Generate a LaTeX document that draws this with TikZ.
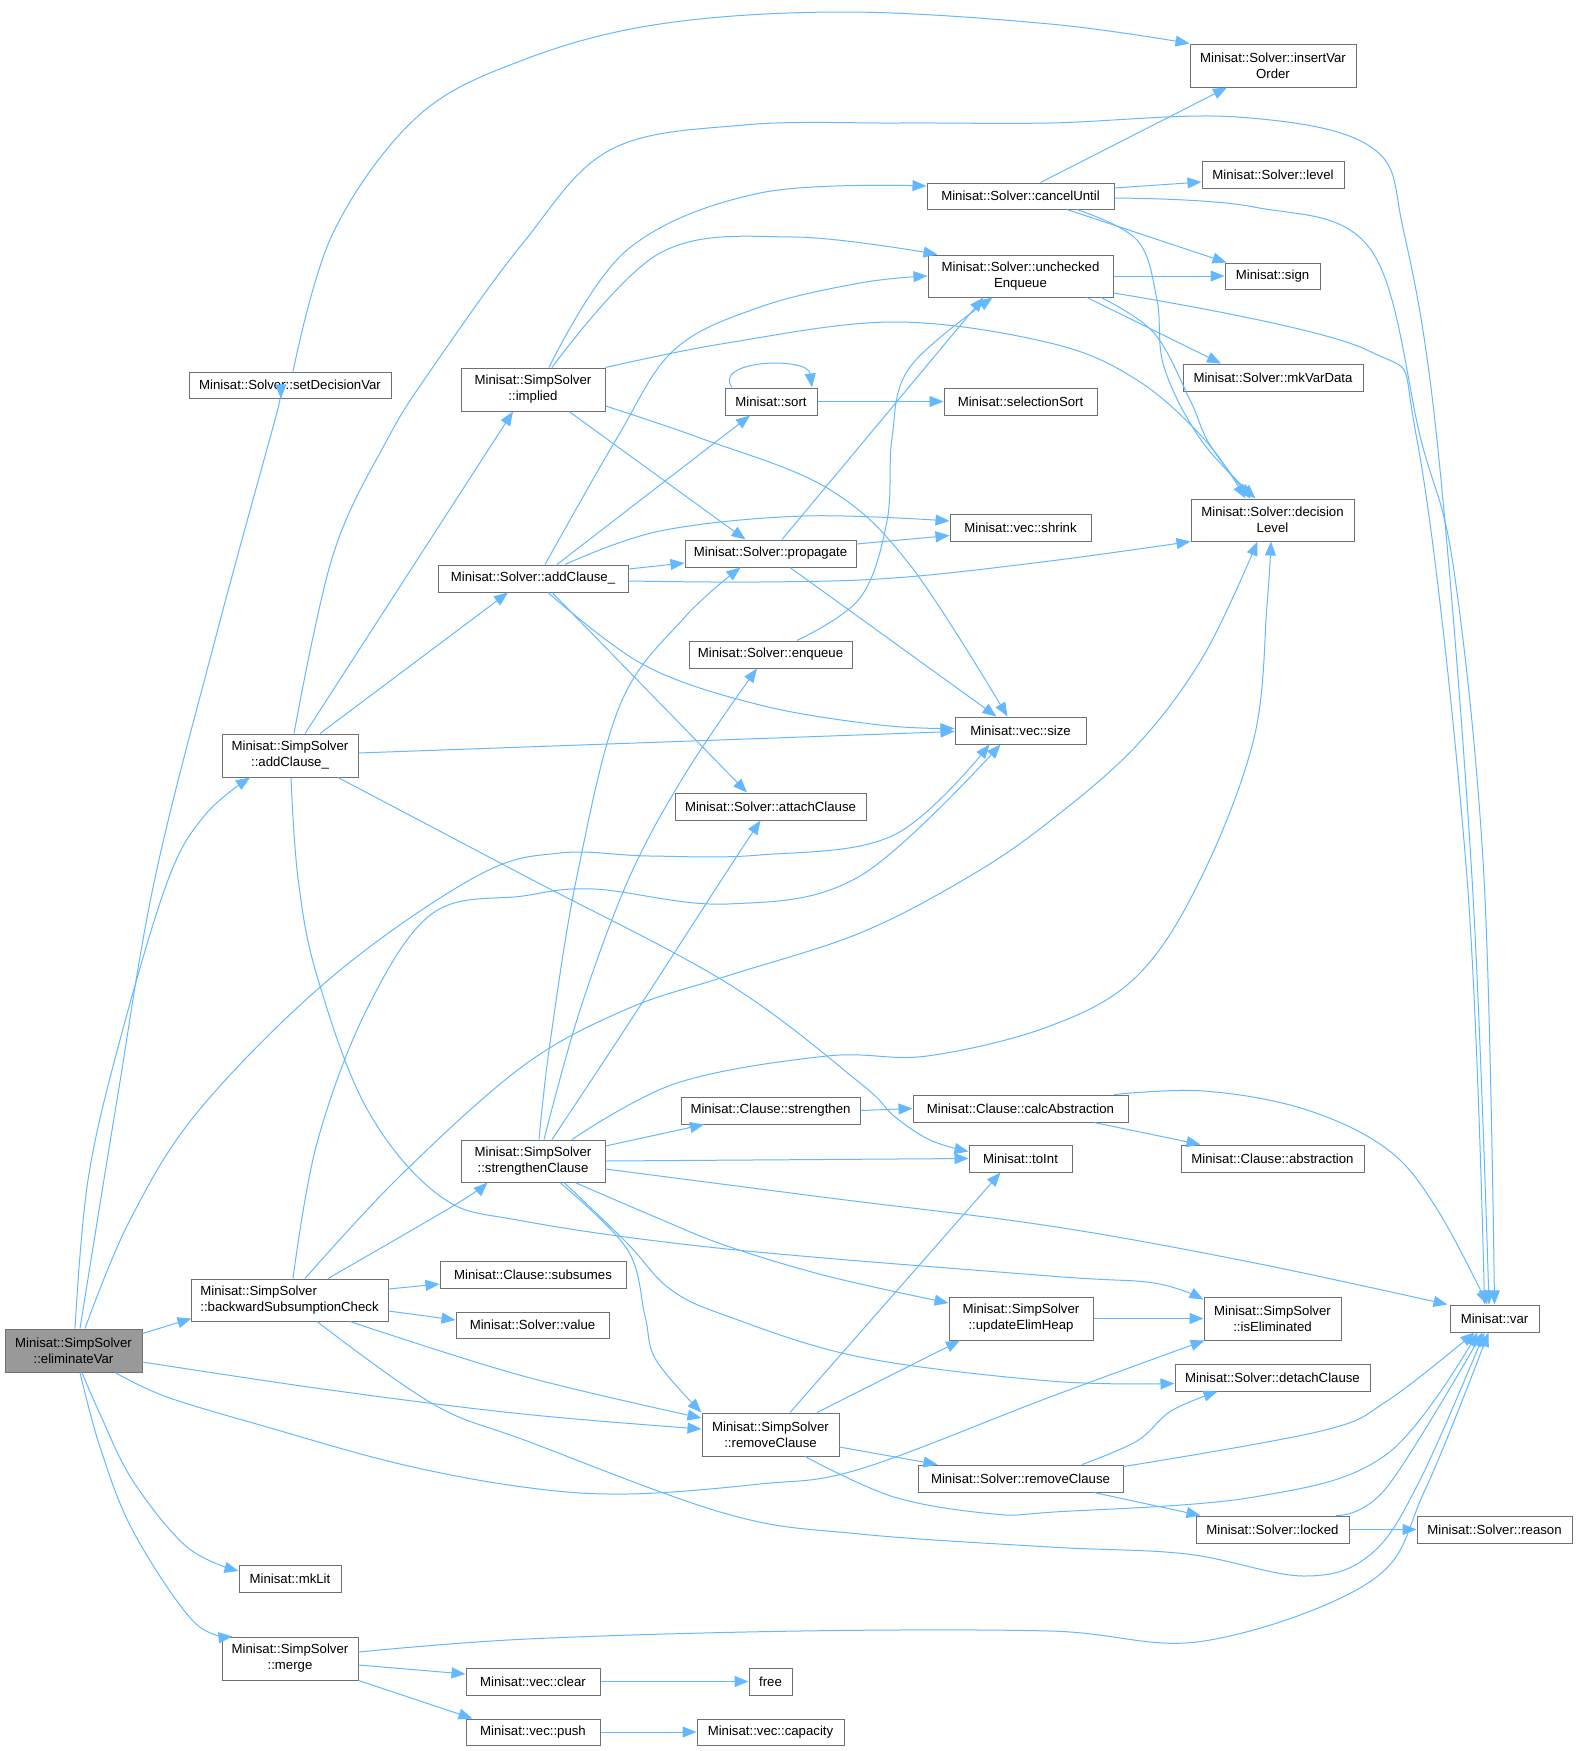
\documentclass[tikz,border=0pt]{standalone}
\usepackage{fontspec}
\setmainfont{Liberation Sans}
\usetikzlibrary{arrows.meta}
\definecolor{edgeblue}{HTML}{63B8FF}
\definecolor{boxgray}{HTML}{707070}
\definecolor{elimgray}{HTML}{999999}
\newcommand\dfs{\fontsize{13.2pt}{16pt}\selectfont}
\tikzset{
  box/.style={draw=boxgray, fill=white, line width=1pt, inner sep=0pt, font=\dfs, align=center},
  edge/.style={draw=edgeblue, line width=1pt, -{Triangle[length=14pt,width=11pt]}},
  sm/.style={smooth, tension=0.6}
}
\begin{document}
\begin{tikzpicture}[x=1pt,y=-1pt]
\useasboundingbox (0,0) rectangle (1582,1751);
% nodes
\node[box, minimum width=137pt, minimum height=43pt, fill=elimgray] (E) at (73.5,1350.5) {Minisat::SimpSolver\\::eliminateVar};
\node[box, minimum width=202pt, minimum height=26pt] (sdv) at (290,385) {Minisat::Solver::setDecisionVar};
\node[box, minimum width=136pt, minimum height=43pt] (Aa) at (290,755.5) {Minisat::SimpSolver\\::addClause\_};
\node[box, minimum width=197pt, minimum height=42pt, align=left] (bsc) at (289.5,1300) {Minisat::SimpSolver\\::backwardSubsumptionCheck};
\node[box, minimum width=102pt, minimum height=27pt] (mklit) at (290,1578.5) {Minisat::mkLit};
\node[box, minimum width=136pt, minimum height=43pt] (merge) at (290,1658.5) {Minisat::SimpSolver\\::merge};
\node[box, minimum width=166pt, minimum height=43pt] (ivo) at (1273,65.5) {Minisat::Solver::insertVar\\Order};
\node[box, minimum width=89pt, minimum height=27pt] (var) at (1494.5,1318.5) {Minisat::var};
\node[box, minimum width=187pt, minimum height=26pt] (cu) at (1020.5,196) {Minisat::Solver::cancelUntil};
\node[box, minimum width=142pt, minimum height=27pt] (level) at (1273,174.5) {Minisat::Solver::level};
\node[box, minimum width=95pt, minimum height=26pt] (sign) at (1272.5,276) {Minisat::sign};
\node[box, minimum width=185pt, minimum height=42pt] (ue) at (1020.5,276) {Minisat::Solver::unchecked\\Enqueue};
\node[box, minimum width=180pt, minimum height=27pt] (mvd) at (1273,377.5) {Minisat::Solver::mkVarData};
\node[box, minimum width=163pt, minimum height=42pt] (dl) at (1272.5,520) {Minisat::Solver::decision\\Level};
\node[box, minimum width=144pt, minimum height=43pt] (impl) at (533,389.5) {Minisat::SimpSolver\\::implied};
\node[box, minimum width=92pt, minimum height=27pt] (sort) at (771,401.5) {Minisat::sort};
\node[box, minimum width=153pt, minimum height=27pt] (ssort) at (1020.5,401.5) {Minisat::selectionSort};
\node[box, minimum width=141pt, minimum height=27pt] (shrink) at (1020.5,527.5) {Minisat::vec::shrink};
\node[box, minimum width=190pt, minimum height=27pt] (Ba) at (533,578.5) {Minisat::Solver::addClause\_};
\node[box, minimum width=171pt, minimum height=27pt] (prop) at (770.5,553.5) {Minisat::Solver::propagate};
\node[box, minimum width=163pt, minimum height=27pt] (enq) at (770.5,654.5) {Minisat::Solver::enqueue};
\node[box, minimum width=131pt, minimum height=27pt] (size) at (1020.5,730.5) {Minisat::vec::size};
\node[box, minimum width=191pt, minimum height=27pt] (attach) at (770.5,806.5) {Minisat::Solver::attachClause};
\node[box, minimum width=179pt, minimum height=27pt] (str) at (770.5,1110.5) {Minisat::Clause::strengthen};
\node[box, minimum width=215pt, minimum height=27pt] (calc) at (1020.5,1108.5) {Minisat::Clause::calcAbstraction};
\node[box, minimum width=183pt, minimum height=27pt] (abs) at (1272.5,1158.5) {Minisat::Clause::abstraction};
\node[box, minimum width=144pt, minimum height=42pt] (sc) at (533,1161) {Minisat::SimpSolver\\::strengthenClause};
\node[box, minimum width=103pt, minimum height=27pt] (toint) at (1020.5,1158.5) {Minisat::toInt};
\node[box, minimum width=186pt, minimum height=27pt] (subs) at (533,1274.5) {Minisat::Clause::subsumes};
\node[box, minimum width=153pt, minimum height=26pt] (value) at (532.5,1325) {Minisat::Solver::value};
\node[box, minimum width=144pt, minimum height=43pt] (ueh) at (1021,1318.5) {Minisat::SimpSolver\\::updateElimHeap};
\node[box, minimum width=137pt, minimum height=43pt] (iselim) at (1272.5,1318.5) {Minisat::SimpSolver\\::isEliminated};
\node[box, minimum width=195pt, minimum height=27pt] (detach) at (1272.5,1377.5) {Minisat::Solver::detachClause};
\node[box, minimum width=137pt, minimum height=43pt] (rcs) at (770.5,1434.5) {Minisat::SimpSolver\\::removeClause};
\node[box, minimum width=205pt, minimum height=27pt] (rc) at (1020.5,1478.5) {Minisat::Solver::removeClause};
\node[box, minimum width=153pt, minimum height=27pt] (locked) at (1272.5,1529.5) {Minisat::Solver::locked};
\node[box, minimum width=155pt, minimum height=27pt] (reason) at (1494.5,1529.5) {Minisat::Solver::reason};
\node[box, minimum width=134pt, minimum height=27pt] (clear) at (533,1681.5) {Minisat::vec::clear};
\node[box, minimum width=43pt, minimum height=27pt] (free) at (770.5,1681.5) {free};
\node[box, minimum width=134pt, minimum height=26pt] (push) at (533,1732) {Minisat::vec::push};
\node[box, minimum width=147pt, minimum height=26pt] (cap) at (770.5,1732) {Minisat::vec::capacity};
% edges from eliminateVar
\draw[edge] plot[sm] coordinates {([xshift=6.5pt]E.north) (117,1100) (155,878) (215,640) (270,438) ([xshift=-9pt]sdv.south)};
\draw[edge] plot[sm] coordinates {([xshift=1.5pt]E.north) (88,1180) (120,1040) (168,880) (205,815) ([xshift=-40pt]Aa.south)};
\draw[edge] plot[sm] coordinates {([xshift=11.5pt]E.north) (130,1220) (200,1109) (333,976) (477,876) (560,853) (650,856) (760,855) (894,835) ([xshift=-31pt]size.south)};
\draw[edge] ([yshift=-5pt]E.north east) -- ([shift={(1pt,3pt)}]bsc.south west);
\draw[edge] plot[sm] coordinates {([yshift=-11.5pt]E.east) (330,1390) (523,1414) ([yshift=5.5pt]rcs.west)};
\draw[edge] plot[sm] coordinates {([xshift=41.5pt]E.south) (167,1397) (267,1427) (400,1464) (523,1487) (627,1494) (760,1484) (860,1469) (1050,1397) ([xshift=1pt]iselim.south west)};
\draw[edge] plot[sm] coordinates {([xshift=8.5pt]E.south) (100,1414) (133,1481) (187,1547) ([yshift=7.5pt]mklit.west)};
\draw[edge] plot[sm] coordinates {([xshift=6.5pt]E.south) (100,1447) (133,1531) (193,1621) ([xshift=11pt]merge.north west)};
% setDecisionVar
\draw[edge] plot[sm] coordinates {([xshift=3pt]sdv.north) (333,233) (417,117) (523,60) (660,24) (844,12) (1050,24) (ivo.north west)};
% SimpSolver::addClause_
\draw[edge] ([xshift=30pt]Aa.north) -- ([xshift=-25pt]Ba.south);
\draw[edge] ([xshift=15pt]Aa.north) -- ([xshift=-20pt]impl.south);
\draw[edge] plot[sm] coordinates {([xshift=4pt]Aa.north) (333,555) (387,440) (433,367) (523,243) (610,150) (744,125) (900,123) (1050,123) (1237,117) (1371,147) (1404,233) (1437,440) (1472,878) ([xshift=-5.5pt]var.north)};
\draw[edge] ([yshift=2.5pt]Aa.east) -- ([yshift=-1pt]size.west);
\draw[edge] plot[sm] coordinates {([xshift=48pt]Aa.south) (523,875) (727,983) (860,1083) (894,1116) (930,1140) ([yshift=7pt]toint.west)};
\draw[edge] plot[sm] coordinates {([xshift=1pt]Aa.south) (298,878) (317,976) (367,1109) (440,1196) (523,1221) (727,1249) (1050,1276) (1154,1283) ([yshift=-3pt]iselim.north west)};
% Solver::addClause_
\draw[edge] plot[sm] coordinates {([xshift=12pt]Ba.north) (617,438) (674,350) (760,307) (860,283) (ue.west)};
\draw[edge] ([xshift=24pt]Ba.north) -- ([xshift=-21pt]sort.south);
\draw[edge] plot[sm] coordinates {([xshift=32pt]Ba.north) (660,531) (804,516) ([yshift=6.5pt]shrink.west)};
\draw[edge] ([yshift=9.5pt]Ba.east) -- ([yshift=-9.5pt]prop.west);
\draw[edge] plot[sm] coordinates {([yshift=-2.5pt]Ba.east) (760,582) (894,578) (1050,561) (dl.south west)};
\draw[edge] ([xshift=19pt]Ba.south) -- ([xshift=-23.5pt]attach.north);
\draw[edge] plot[sm] coordinates {([xshift=15pt]Ba.south) (644,665) (760,705) (880,725) ([yshift=2pt]size.west)};
% implied
\draw[edge] plot[sm] coordinates {([xshift=16pt]impl.north) (627,250) (760,193) ([yshift=10pt]cu.west)};
\draw[edge] plot[sm] coordinates {([xshift=19pt]impl.north) (660,253) (794,237) ([xshift=10pt]ue.north west)};
\draw[edge] plot[sm] coordinates {(impl.north east) (727,343) (894,322) (1050,343) (1137,380) (1205,440) ([xshift=-27pt]dl.north)};
\draw[edge] ([xshift=36pt]impl.south) -- ([xshift=-25pt]prop.north);
\draw[edge] plot[sm] coordinates {([yshift=-16.5pt]impl.east) (700,438) (827,488) (910,565) ([xshift=-13pt]size.north)};
% sort
\draw[edge] ([xshift=-39pt]sort.north) .. controls (712,360) and (808,356) .. ([xshift=41pt]sort.north);
\draw[edge] (sort.east) -- (ssort.west);
% cancelUntil
\draw[edge] ([xshift=20pt]cu.north) -- ([xshift=-46pt]ivo.south);
\draw[edge] ([yshift=8pt]cu.east) -- ([yshift=-7.5pt]level.west);
\draw[edge] plot[sm] coordinates {([yshift=-2pt]cu.east) (1254,207) (1371,250) (1421,440) (1454,571) (1484,878) (var.north)};
\draw[edge] ([xshift=46.5pt]cu.south) -- ([xshift=2pt]sign.north west);
\draw[edge] plot[sm] coordinates {([xshift=56.5pt]cu.south) (1137,240) (1157,300) (1164,367) (1201,440) ([xshift=-17pt]dl.north)};
% uncheckedEnqueue
\draw[edge] (ue.east) -- (sign.west);
\draw[edge] plot[sm] coordinates {([yshift=-17pt]ue.east) (1367,350) (1417,440) (1467,878) ([xshift=-10pt]var.north)};
\draw[edge] ([xshift=66.5pt]ue.south) -- ([xshift=-52pt]mvd.north);
\draw[edge] plot[sm] coordinates {([xshift=80.5pt]ue.south) (1154,333) (1190,400) (1210,445) ([xshift=-22pt]dl.north)};
% propagate, enqueue
\draw[edge] ([xshift=11.5pt]prop.north) -- ([xshift=-37pt]ue.south);
\draw[edge] ([yshift=9.5pt]prop.east) -- ([yshift=-8pt]shrink.west);
\draw[edge] ([xshift=19.5pt]prop.south) -- ([xshift=-24pt]size.north);
\draw[edge] plot[sm] coordinates {([xshift=26.5pt]enq.north) (860,598) (887,521) (892,438) (910,367) ([xshift=-28pt]ue.south)};
% strengthenClause
\draw[edge] plot[sm] coordinates {([xshift=6pt]sc.north) (550,1043) (577,876) (620,705) (684,618) ([xshift=-30pt]prop.south)};
\draw[edge] plot[sm] coordinates {([xshift=11pt]sc.north) (580,1010) (630,876) (687,771) ([xshift=-13.5pt]enq.south)};
\draw[edge] plot[sm] coordinates {([xshift=19pt]sc.north) (627,1026) (724,876) ([xshift=-10pt]attach.south)};
\draw[edge] plot[sm] coordinates {([xshift=39pt]sc.north) (677,1083) (827,1056) (927,1056) (1050,1026) (1137,976) (1201,878) (1254,738) (1267,605) ([xshift=-1.5pt]dl.south)};
\draw[edge] ([yshift=15pt]sc.east) -- ([xshift=-66.5pt]str.south);
\draw[edge] (sc.east) -- (toint.west);
\draw[edge] plot[sm] coordinates {([yshift=-8pt]sc.east) (830,1198) (1050,1226) (1250,1262) ([xshift=-2pt]var.north west)};
\draw[edge] plot[sm] coordinates {([xshift=27pt]sc.south) (627,1249) (645,1316) (656,1360) (rcs.north west)};
\draw[edge] plot[sm] coordinates {([xshift=31pt]sc.south) (627,1243) (670,1289) (727,1316) (860,1357) (1050,1381) ([yshift=-6pt]detach.west)};
\draw[edge] plot[sm] coordinates {([xshift=42pt]sc.south) (660,1219) (727,1246) (827,1276) ([yshift=15.5pt]ueh.west)};
% backwardSubsumptionCheck
\draw[edge] plot[sm] coordinates {([xshift=15.5pt]bsc.north) (400,1176) (523,1066) (627,1009) (727,976) (860,933) (970,876) (1050,821) (1137,745) (1204,655) ([xshift=-15pt]dl.south)};
\draw[edge] plot[sm] coordinates {([xshift=3.5pt]bsc.north) (317,1143) (367,1009) (433,913) (523,896) (594,889) (727,904) (860,876) ([xshift=-20pt]size.south)};
\draw[edge] plot[sm] coordinates {([xshift=38.5pt]bsc.north) (453,1206) ([xshift=27pt]sc.south west)};
\draw[edge] ([yshift=11pt]bsc.east) -- ([yshift=-9.5pt]subs.west);
\draw[edge] ([yshift=-11pt]bsc.east) -- ([yshift=5pt]value.west);
\draw[edge] plot[sm] coordinates {([xshift=60.5pt]bsc.south) (523,1376) ([yshift=16.5pt]rcs.west)};
\draw[edge] plot[sm] coordinates {([xshift=27.5pt]bsc.south) (433,1404) (527,1441) (727,1514) (860,1534) (1050,1547) (1187,1554) (1304,1576) (1371,1554) (1420,1480) ([xshift=-10pt]var.south)};
% merge
\draw[edge] plot[sm] coordinates {([yshift=6.5pt]merge.east) (527,1639) (800,1631) (1050,1631) (1204,1641) (1371,1581) (1425,1490) ([xshift=-6pt]var.south)};
\draw[edge] ([yshift=-6.5pt]merge.east) -- ([yshift=7.5pt]clear.west);
\draw[edge] (merge.south east) -- ([xshift=7pt]push.north west);
\draw[edge] (clear.east) -- (free.west);
\draw[edge] (push.east) -- (cap.west);
% clause
\draw[edge] (str.east) -- (calc.west);
\draw[edge] ([xshift=73.5pt]calc.south) -- ([xshift=20pt]abs.north west);
\draw[edge] plot[sm] coordinates {([xshift=93.5pt]calc.north) (1204,1091) (1304,1109) (1387,1149) (1437,1209) ([xshift=-7pt]var.north)};
\draw[edge] (ueh.east) -- (iselim.west);
% removeClause (SimpSolver)
\draw[edge] ([xshift=19.5pt]rcs.north) -- ([xshift=-20pt]toint.south);
\draw[edge] ([xshift=46.5pt]rcs.north) -- ([xshift=-61pt]ueh.south);
\draw[edge] ([yshift=-12.5pt]rcs.east) -- ([xshift=20pt]rc.north west);
\draw[edge] plot[sm] coordinates {([xshift=34.5pt]rcs.south) (894,1497) (994,1514) (1054,1512) (1254,1497) (1387,1454) ([xshift=-17pt]var.south)};
% removeClause (Solver)
\draw[edge] plot[sm] coordinates {([xshift=61.5pt]rc.north) (1137,1441) (1171,1411) ([xshift=-55pt]detach.south)};
\draw[edge] plot[sm] coordinates {([yshift=-2pt]rc.north east) (1321,1431) (1387,1401) ([xshift=-20pt]var.south)};
\draw[edge] ([xshift=73.5pt]rc.south) -- ([xshift=5pt]locked.north west);
% locked
\draw[edge] plot[sm] coordinates {([xshift=63.5pt]locked.north) (1387,1487) ([xshift=-12pt]var.south)};
\draw[edge] (locked.east) -- (reason.west);
\end{tikzpicture}
\end{document}
